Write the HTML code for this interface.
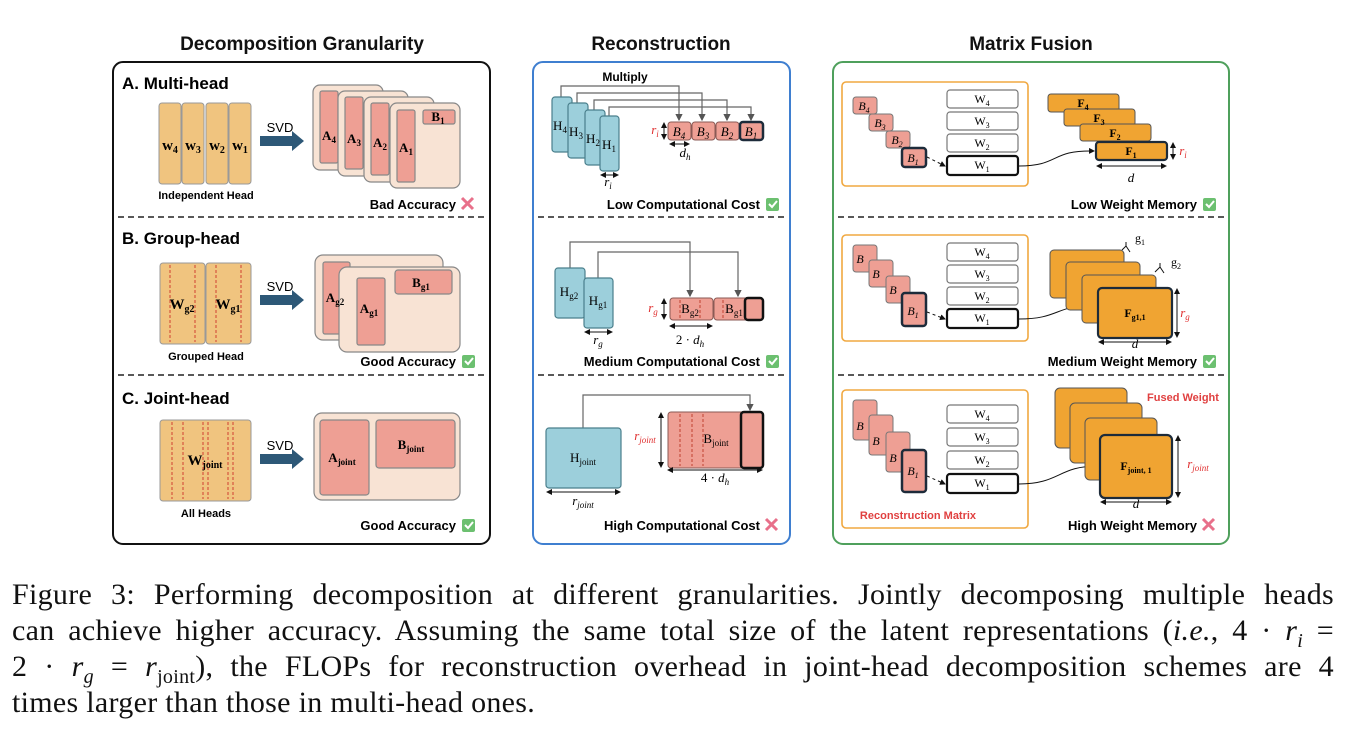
<!DOCTYPE html>
<html><head><meta charset="utf-8"><style>
body{margin:0;background:#fff;width:1346px;height:754px;overflow:hidden;position:relative}
svg{position:absolute;left:0;top:0}
.cap{position:absolute;left:12px;top:577px;width:1322px;font-family:"Liberation Serif",serif;font-size:30px;letter-spacing:0.3px;line-height:36px;color:#111}
.cap div{text-align:justify;text-align-last:justify;height:36px;white-space:nowrap}
.cap div.l{text-align-last:left}
.cap sub{font-size:20px;line-height:0}
</style></head><body>
<svg width="1346" height="580" viewBox="0 0 1346 580" font-family="Liberation Sans, sans-serif">
<defs>
<marker id="ah" markerWidth="6" markerHeight="6" refX="5" refY="3" orient="auto"><path d="M0,0L6,3L0,6z" fill="#555"/></marker>
<marker id="ak" markerWidth="6" markerHeight="6" refX="5" refY="3" orient="auto"><path d="M0,0L6,3L0,6z" fill="#111"/></marker>
<marker id="da" markerWidth="6" markerHeight="6" refX="5" refY="3" orient="auto-start-reverse"><path d="M0,0L6,3L0,6z" fill="#111"/></marker>
<g id="ok"><rect x="0" y="-11" width="13" height="13" rx="2" fill="#6cc070"/><path d="M3,-5L6,-2L11,-8" stroke="#fff" stroke-width="2" fill="none"/></g>
<g id="no"><path d="M0,-10L11,1M11,-10L0,1" stroke="#e8708a" stroke-width="3"/></g>
<g id="svd"><path d="M0,-5H32V-10L44,0L32,10V5H0z" fill="#2d5877"/></g>
</defs>
<g font-weight="bold" font-size="19" text-anchor="middle" fill="#111">
<text x="302" y="50">Decomposition Granularity</text>
<text x="661" y="50">Reconstruction</text>
<text x="1031" y="50">Matrix Fusion</text>
</g>
<rect x="113" y="62" width="377" height="482" rx="10" fill="none" stroke="#111" stroke-width="2"/>
<rect x="533" y="62" width="257" height="482" rx="10" fill="none" stroke="#3f7fd0" stroke-width="2"/>
<rect x="833" y="62" width="396" height="482" rx="10" fill="none" stroke="#4fa05c" stroke-width="2"/>
<g stroke="#222" stroke-width="1.6" stroke-dasharray="6,4">
<path d="M118,217H486M118,375H486M538,217H786M538,375H786M838,217H1225M838,375H1225"/>
</g>

<!-- Panel 1 A -->
<text x="122" y="89" font-weight="bold" font-size="17">A. Multi-head</text>
<g fill="#f0c47f" stroke="#999">
<rect x="159" y="103" width="22" height="81" rx="3"/><rect x="182" y="103" width="22" height="81" rx="3"/><rect x="206" y="103" width="22" height="81" rx="3"/><rect x="229" y="103" width="22" height="81" rx="3"/>
</g>
<g font-family="Liberation Serif,serif" font-weight="bold" font-size="15" text-anchor="middle">
<text x="170" y="150">w<tspan font-size="10" dy="3">4</tspan></text><text x="193" y="150">w<tspan font-size="10" dy="3">3</tspan></text><text x="217" y="150">w<tspan font-size="10" dy="3">2</tspan></text><text x="240" y="150">w<tspan font-size="10" dy="3">1</tspan></text>
</g>
<text x="206" y="199" font-size="11" font-weight="bold" text-anchor="middle">Independent Head</text>
<text x="280" y="132" font-size="13" text-anchor="middle">SVD</text>
<use href="#svd" x="260" y="141"/>
<g stroke="#888" stroke-width="1.2">
<rect x="313" y="85" width="70" height="85" rx="7" fill="#f8e3d4"/><rect x="320" y="91" width="18" height="72" rx="2" fill="#ee9f94"/>
<rect x="338" y="91" width="70" height="85" rx="7" fill="#f8e3d4"/><rect x="345" y="97" width="18" height="72" rx="2" fill="#ee9f94"/>
<rect x="364" y="97" width="70" height="85" rx="7" fill="#f8e3d4"/><rect x="371" y="103" width="18" height="72" rx="2" fill="#ee9f94"/>
<rect x="390" y="103" width="70" height="85" rx="7" fill="#f8e3d4"/><rect x="397" y="110" width="18" height="72" rx="2" fill="#ee9f94"/>
<rect x="423" y="110" width="32" height="14" rx="2" fill="#ee9f94"/>
</g>
<g font-family="Liberation Serif,serif" font-weight="bold" font-size="13" text-anchor="middle">
<text x="329" y="140">A<tspan font-size="9" dy="3">4</tspan></text><text x="354" y="143">A<tspan font-size="9" dy="3">3</tspan></text><text x="380" y="147">A<tspan font-size="9" dy="3">2</tspan></text><text x="406" y="152">A<tspan font-size="9" dy="3">1</tspan></text><text x="438" y="121">B<tspan font-size="9" dy="3">1</tspan></text>
</g>
<text x="456" y="209" font-size="13" font-weight="bold" text-anchor="end">Bad Accuracy</text><use href="#no" x="462" y="208"/>

<!-- Panel 1 B -->
<text x="122" y="244" font-weight="bold" font-size="17">B. Group-head</text>
<g fill="#f0c47f" stroke="#999"><rect x="160" y="263" width="45" height="81" rx="3"/><rect x="206" y="263" width="45" height="81" rx="3"/></g>
<g stroke="#d04030" stroke-dasharray="3,2" fill="none"><path d="M170,265V342M195,265V342M216,265V342M241,265V342"/></g>
<g font-family="Liberation Serif,serif" font-weight="bold" font-size="15" text-anchor="middle"><text x="182" y="309">W<tspan font-size="10" dy="3">g2</tspan></text><text x="228" y="309">W<tspan font-size="10" dy="3">g1</tspan></text></g>
<text x="206" y="360" font-size="11" font-weight="bold" text-anchor="middle">Grouped Head</text>
<text x="280" y="291" font-size="13" text-anchor="middle">SVD</text>
<use href="#svd" x="260" y="300"/>
<g stroke="#888" stroke-width="1.2">
<rect x="315" y="255" width="128" height="85" rx="8" fill="#f8e3d4"/><rect x="323" y="262" width="27" height="72" rx="2" fill="#ee9f94"/>
<rect x="339" y="267" width="121" height="85" rx="8" fill="#f8e3d4"/><rect x="357" y="278" width="28" height="67" rx="2" fill="#ee9f94"/>
<rect x="395" y="270" width="57" height="24" rx="3" fill="#ee9f94"/>
</g>
<g font-family="Liberation Serif,serif" font-weight="bold" font-size="13" text-anchor="middle"><text x="335" y="302">A<tspan font-size="9" dy="3">g2</tspan></text><text x="369" y="313">A<tspan font-size="9" dy="3">g1</tspan></text><text x="421" y="287">B<tspan font-size="9" dy="3">g1</tspan></text></g>
<text x="456" y="366" font-size="13" font-weight="bold" text-anchor="end">Good Accuracy</text><use href="#ok" x="462" y="366"/>

<!-- Panel 1 C -->
<text x="122" y="404" font-weight="bold" font-size="17">C. Joint-head</text>
<rect x="160" y="420" width="91" height="81" rx="3" fill="#f0c47f" stroke="#999"/>
<g stroke="#d04030" stroke-dasharray="3,2" fill="none"><path d="M172,422V499M183,422V499M203,422V499M208,422V499M228,422V499M233,422V499"/></g>
<text x="205" y="465" font-family="Liberation Serif,serif" font-weight="bold" font-size="15" text-anchor="middle">W<tspan font-size="10" dy="3">joint</tspan></text>
<text x="206" y="517" font-size="11" font-weight="bold" text-anchor="middle">All Heads</text>
<text x="280" y="450" font-size="13" text-anchor="middle">SVD</text>
<use href="#svd" x="260" y="459"/>
<g stroke="#888" stroke-width="1.2"><rect x="314" y="413" width="146" height="87" rx="8" fill="#f8e3d4"/><rect x="320" y="420" width="49" height="75" rx="3" fill="#ee9f94"/><rect x="376" y="420" width="79" height="48" rx="3" fill="#ee9f94"/></g>
<g font-family="Liberation Serif,serif" font-weight="bold" font-size="13" text-anchor="middle"><text x="342" y="462">A<tspan font-size="9" dy="3">joint</tspan></text><text x="411" y="449">B<tspan font-size="9" dy="3">joint</tspan></text></g>
<text x="456" y="530" font-size="13" font-weight="bold" text-anchor="end">Good Accuracy</text><use href="#ok" x="462" y="530"/>

<!-- Panel 2 s1 -->
<text x="625" y="81" font-size="12" font-weight="bold" text-anchor="middle">Multiply</text>
<g stroke="#666" stroke-width="1.2" fill="none" marker-end="url(#ah)">
<path d="M561,97V86H679V120"/><path d="M577,103V93H702V120"/><path d="M594,110V100H727V120"/><path d="M609,116V107H751V120"/>
</g>
<g fill="#9ccfdb" stroke="#4a7f8c" stroke-width="1.2">
<rect x="552" y="97" width="20" height="55" rx="3"/><rect x="568" y="103" width="20" height="55" rx="3"/><rect x="585" y="110" width="20" height="55" rx="3"/><rect x="600" y="116" width="19" height="55" rx="3"/>
</g>
<g font-family="Liberation Serif,serif" font-size="13" text-anchor="middle">
<text x="560" y="130">H<tspan font-size="9" dy="3">4</tspan></text><text x="576" y="136">H<tspan font-size="9" dy="3">3</tspan></text><text x="593" y="143">H<tspan font-size="9" dy="3">2</tspan></text><text x="609" y="149">H<tspan font-size="9" dy="3">1</tspan></text>
</g>
<g fill="#ee9f94" stroke="#8a5a55"><rect x="668" y="122" width="23" height="18" rx="3"/><rect x="692" y="122" width="23" height="18" rx="3"/><rect x="716" y="122" width="23" height="18" rx="3"/><rect x="740" y="122" width="23" height="18" rx="3" stroke="#1d2b3a" stroke-width="2.5"/></g>
<g font-family="Liberation Serif,serif" font-style="italic" font-size="13" text-anchor="middle">
<text x="679" y="136">B<tspan font-size="9" dy="3">4</tspan></text><text x="703" y="136">B<tspan font-size="9" dy="3">3</tspan></text><text x="727" y="136">B<tspan font-size="9" dy="3">2</tspan></text><text x="751" y="136">B<tspan font-size="9" dy="3">1</tspan></text>
<text x="655" y="134" fill="#e03030">r<tspan font-size="9" dy="3">i</tspan></text>
<text x="685" y="157">d<tspan font-size="9" dy="3">h</tspan></text>
<text x="608" y="186">r<tspan font-size="9" dy="3">i</tspan></text>
</g>
<g stroke="#111" fill="none" marker-start="url(#da)" marker-end="url(#da)"><path d="M664,123V139"/><path d="M670,144H689"/><path d="M601,175H618"/></g>
<text x="760" y="209" font-size="13" font-weight="bold" text-anchor="end">Low Computational Cost</text><use href="#ok" x="766" y="209"/>

<!-- Panel 2 s2 -->
<g stroke="#666" stroke-width="1.2" fill="none" marker-end="url(#ah)"><path d="M570,268V242H690V296"/><path d="M598,278V252H738V296"/></g>
<g fill="#9ccfdb" stroke="#4a7f8c" stroke-width="1.2"><rect x="555" y="268" width="30" height="50" rx="3"/><rect x="584" y="278" width="29" height="50" rx="3"/></g>
<g font-family="Liberation Serif,serif" font-size="13" text-anchor="middle"><text x="569" y="296">H<tspan font-size="9" dy="3">g2</tspan></text><text x="598" y="305">H<tspan font-size="9" dy="3">g1</tspan></text></g>
<g stroke="#8a5a55"><rect x="670" y="298" width="43" height="22" rx="3" fill="#ee9f94"/><rect x="714" y="298" width="49" height="22" rx="3" fill="#ee9f94"/><rect x="745" y="298" width="18" height="22" rx="3" fill="none" stroke="#111" stroke-width="2.5"/></g>
<g stroke="#c04030" stroke-dasharray="3,2"><path d="M680,300V318M700,300V318M723,300V318"/></g>
<g font-family="Liberation Serif,serif" font-size="13" text-anchor="middle"><text x="690" y="313">B<tspan font-size="9" dy="3">g2</tspan></text><text x="734" y="313">B<tspan font-size="9" dy="3">g1</tspan></text>
<text x="653" y="312" fill="#e03030" font-style="italic">r<tspan font-size="9" dy="3">g</tspan></text><text x="690" y="344">2 · <tspan font-style="italic">d</tspan><tspan font-size="9" dy="3" font-style="italic">h</tspan></text><text x="598" y="344" font-style="italic">r<tspan font-size="9" dy="3">g</tspan></text></g>
<g stroke="#111" fill="none" marker-start="url(#da)" marker-end="url(#da)"><path d="M664,299V319"/><path d="M670,326H712"/><path d="M585,332H612"/></g>
<text x="760" y="366" font-size="13" font-weight="bold" text-anchor="end">Medium Computational Cost</text><use href="#ok" x="766" y="366"/>

<!-- Panel 2 s3 -->
<g stroke="#666" stroke-width="1.2" fill="none" marker-end="url(#ah)"><path d="M583,428V395H750V410"/></g>
<rect x="546" y="428" width="75" height="60" rx="3" fill="#9ccfdb" stroke="#4a7f8c" stroke-width="1.2"/>
<g stroke="#8a5a55"><rect x="668" y="412" width="95" height="56" rx="3" fill="#ee9f94"/><rect x="741" y="412" width="22" height="56" rx="3" fill="none" stroke="#111" stroke-width="2.5"/></g>
<g stroke="#c04030" stroke-dasharray="3,2"><path d="M680,414V466M692,414V466M703,414V466"/></g>
<g font-family="Liberation Serif,serif" font-size="13" text-anchor="middle"><text x="583" y="462">H<tspan font-size="9" dy="3">joint</tspan></text><text x="716" y="443">B<tspan font-size="9" dy="3">joint</tspan></text>
<text x="645" y="440" fill="#e03030" font-style="italic">r<tspan font-size="9" dy="3">joint</tspan></text><text x="715" y="482">4 · <tspan font-style="italic">d</tspan><tspan font-size="9" dy="3" font-style="italic">h</tspan></text><text x="583" y="505" font-style="italic">r<tspan font-size="9" dy="3">joint</tspan></text></g>
<g stroke="#111" fill="none" marker-start="url(#da)" marker-end="url(#da)"><path d="M661,413V467"/><path d="M668,470H762"/><path d="M547,492H620"/></g>
<text x="760" y="530" font-size="13" font-weight="bold" text-anchor="end">High Computational Cost</text><use href="#no" x="766" y="529"/>

<!-- Panel 3 s1 -->
<rect x="842" y="82" width="186" height="104" rx="4" fill="none" stroke="#f0a840" stroke-width="1.6"/>
<g fill="#ee9f94" stroke="#777"><rect x="853" y="97" width="24" height="17" rx="3"/><rect x="869" y="114" width="24" height="17" rx="3"/><rect x="886" y="131" width="24" height="17" rx="3"/><rect x="902" y="148" width="24" height="19" rx="3" stroke="#1d2b3a" stroke-width="2.5"/></g>
<g font-family="Liberation Serif,serif" font-style="italic" font-size="12" text-anchor="middle"><text x="864" y="110">B<tspan font-size="8" dy="3">4</tspan></text><text x="880" y="127">B<tspan font-size="8" dy="3">3</tspan></text><text x="897" y="144">B<tspan font-size="8" dy="3">2</tspan></text><text x="913" y="162">B<tspan font-size="8" dy="3">1</tspan></text></g>
<g fill="#fff" stroke="#777" stroke-width="1.2"><rect x="947" y="90" width="71" height="18" rx="3"/><rect x="947" y="112" width="71" height="18" rx="3"/><rect x="947" y="134" width="71" height="18" rx="3"/><rect x="947" y="156" width="71" height="19" rx="3" stroke="#111" stroke-width="2.2"/></g>
<g font-family="Liberation Serif,serif" font-size="12" text-anchor="middle"><text x="982" y="103">W<tspan font-size="8" dy="3">4</tspan></text><text x="982" y="125">W<tspan font-size="8" dy="3">3</tspan></text><text x="982" y="147">W<tspan font-size="8" dy="3">2</tspan></text><text x="982" y="169">W<tspan font-size="8" dy="3">1</tspan></text></g>
<path d="M927,157L945,166" stroke="#111" stroke-dasharray="3,3" fill="none" marker-end="url(#ak)"/>
<path d="M1019,166C1060,166 1050,150 1094,151" stroke="#111" fill="none" marker-end="url(#ak)"/>
<g fill="#f0a432" stroke="#555"><rect x="1048" y="94" width="71" height="18" rx="3"/><rect x="1064" y="109" width="71" height="17" rx="3"/><rect x="1080" y="124" width="71" height="17" rx="3"/><rect x="1096" y="142" width="71" height="18" rx="3" stroke="#1d2b3a" stroke-width="2.2"/></g>
<g font-family="Liberation Serif,serif" font-weight="bold" font-size="12" text-anchor="middle"><text x="1083" y="107">F<tspan font-size="8" dy="3">4</tspan></text><text x="1099" y="122">F<tspan font-size="8" dy="3">3</tspan></text><text x="1115" y="137">F<tspan font-size="8" dy="3">2</tspan></text><text x="1131" y="155">F<tspan font-size="8" dy="3">1</tspan></text></g>
<g font-family="Liberation Serif,serif" font-style="italic" font-size="13" text-anchor="middle"><text x="1131" y="182">d</text><text x="1183" y="155" fill="#e03030">r<tspan font-size="9" dy="3">i</tspan></text></g>
<g stroke="#111" fill="none" marker-start="url(#da)" marker-end="url(#da)"><path d="M1097,166H1166"/><path d="M1173,143V159"/></g>
<text x="1197" y="209" font-size="13" font-weight="bold" text-anchor="end">Low Weight Memory</text><use href="#ok" x="1203" y="209"/>

<!-- Panel 3 s2 -->
<rect x="842" y="235" width="186" height="106" rx="4" fill="none" stroke="#f0a840" stroke-width="1.6"/>
<g fill="#ee9f94" stroke="#777"><rect x="853" y="245" width="24" height="27" rx="3"/><rect x="869" y="260" width="24" height="27" rx="3"/><rect x="886" y="276" width="24" height="27" rx="3"/><rect x="902" y="293" width="24" height="33" rx="3" stroke="#1d2b3a" stroke-width="2.5"/></g>
<g font-family="Liberation Serif,serif" font-style="italic" font-size="12" text-anchor="middle"><text x="860" y="263">B</text><text x="876" y="278">B</text><text x="893" y="294">B</text><text x="913" y="315">B<tspan font-size="8" dy="3">1</tspan></text></g>
<g fill="#fff" stroke="#777" stroke-width="1.2"><rect x="947" y="243" width="71" height="18" rx="3"/><rect x="947" y="265" width="71" height="18" rx="3"/><rect x="947" y="287" width="71" height="18" rx="3"/><rect x="947" y="309" width="71" height="19" rx="3" stroke="#111" stroke-width="2.2"/></g>
<g font-family="Liberation Serif,serif" font-size="12" text-anchor="middle"><text x="982" y="256">W<tspan font-size="8" dy="3">4</tspan></text><text x="982" y="278">W<tspan font-size="8" dy="3">3</tspan></text><text x="982" y="300">W<tspan font-size="8" dy="3">2</tspan></text><text x="982" y="322">W<tspan font-size="8" dy="3">1</tspan></text></g>
<path d="M927,312L945,319" stroke="#111" stroke-dasharray="3,3" fill="none" marker-end="url(#ak)"/>
<path d="M1019,319C1060,319 1055,305 1096,305" stroke="#111" fill="none" marker-end="url(#ak)"/>
<g fill="#f0a432" stroke="#555"><rect x="1050" y="250" width="74" height="48" rx="4"/><rect x="1066" y="262" width="74" height="48" rx="4"/><rect x="1082" y="275" width="74" height="48" rx="4"/><rect x="1098" y="288" width="74" height="50" rx="4" stroke="#1d2b3a" stroke-width="2.2"/></g>
<text x="1135" y="317" font-family="Liberation Serif,serif" font-weight="bold" font-size="12" text-anchor="middle">F<tspan font-size="8" dy="3">g1,1</tspan></text>
<path d="M1122,250L1126,246L1130,252M1126,246V242M1155,272L1160,267L1164,273M1160,267V263" stroke="#111" fill="none"/>
<g font-family="Liberation Serif,serif" font-size="12" text-anchor="middle"><text x="1140" y="242">g<tspan font-size="8" dy="3">1</tspan></text><text x="1176" y="266">g<tspan font-size="8" dy="3">2</tspan></text>
<text x="1135" y="348" font-style="italic" font-size="13">d</text><text x="1185" y="317" fill="#e03030" font-style="italic" font-size="13">r<tspan font-size="9" dy="3">g</tspan></text></g>
<g stroke="#111" fill="none" marker-start="url(#da)" marker-end="url(#da)"><path d="M1099,342H1171"/><path d="M1177,289V337"/></g>
<text x="1197" y="366" font-size="13" font-weight="bold" text-anchor="end">Medium Weight Memory</text><use href="#ok" x="1203" y="366"/>

<!-- Panel 3 s3 -->
<rect x="842" y="390" width="186" height="138" rx="4" fill="none" stroke="#f0a840" stroke-width="1.6"/>
<g fill="#ee9f94" stroke="#777"><rect x="853" y="400" width="24" height="40" rx="3"/><rect x="869" y="415" width="24" height="40" rx="3"/><rect x="886" y="432" width="24" height="40" rx="3"/><rect x="902" y="450" width="24" height="42" rx="3" stroke="#1d2b3a" stroke-width="2.5"/></g>
<g font-family="Liberation Serif,serif" font-style="italic" font-size="12" text-anchor="middle"><text x="860" y="430">B</text><text x="876" y="445">B</text><text x="893" y="462">B</text><text x="913" y="475">B<tspan font-size="8" dy="3">1</tspan></text></g>
<g fill="#fff" stroke="#777" stroke-width="1.2"><rect x="947" y="405" width="71" height="18" rx="3"/><rect x="947" y="428" width="71" height="18" rx="3"/><rect x="947" y="451" width="71" height="18" rx="3"/><rect x="947" y="474" width="71" height="19" rx="3" stroke="#111" stroke-width="2.2"/></g>
<g font-family="Liberation Serif,serif" font-size="12" text-anchor="middle"><text x="982" y="418">W<tspan font-size="8" dy="3">4</tspan></text><text x="982" y="441">W<tspan font-size="8" dy="3">3</tspan></text><text x="982" y="464">W<tspan font-size="8" dy="3">2</tspan></text><text x="982" y="487">W<tspan font-size="8" dy="3">1</tspan></text></g>
<path d="M927,476L945,484" stroke="#111" stroke-dasharray="3,3" fill="none" marker-end="url(#ak)"/>
<path d="M1019,484C1060,484 1058,466 1098,466" stroke="#111" fill="none" marker-end="url(#ak)"/>
<text x="918" y="519" font-size="11" font-weight="bold" fill="#e04040" text-anchor="middle">Reconstruction Matrix</text>
<g fill="#f0a432" stroke="#555"><rect x="1055" y="388" width="72" height="60" rx="5"/><rect x="1070" y="403" width="72" height="60" rx="5"/><rect x="1085" y="418" width="72" height="62" rx="5"/><rect x="1100" y="435" width="72" height="63" rx="5" stroke="#1d2b3a" stroke-width="2.2"/></g>
<text x="1136" y="470" font-family="Liberation Serif,serif" font-weight="bold" font-size="12" text-anchor="middle">F<tspan font-size="8" dy="3">joint, 1</tspan></text>
<text x="1183" y="401" font-size="11" font-weight="bold" fill="#e04040" text-anchor="middle">Fused Weight</text>
<g font-family="Liberation Serif,serif" font-style="italic" font-size="13" text-anchor="middle"><text x="1136" y="508">d</text><text x="1198" y="468" fill="#e03030">r<tspan font-size="9" dy="3">joint</tspan></text></g>
<g stroke="#111" fill="none" marker-start="url(#da)" marker-end="url(#da)"><path d="M1101,502H1171"/><path d="M1178,436V497"/></g>
<text x="1197" y="530" font-size="13" font-weight="bold" text-anchor="end">High Weight Memory</text><use href="#no" x="1203" y="529"/>
</svg>
<div class="cap">
<div>Figure 3: Performing decomposition at different granularities. Jointly decomposing multiple heads</div>
<div>can achieve higher accuracy. Assuming the same total size of the latent representations (<i>i.e.</i>, 4 · <i>r<sub>i</sub></i> =</div>
<div>2 · <i>r<sub>g</sub></i> = <i>r</i><sub>joint</sub>), the FLOPs for reconstruction overhead in joint-head decomposition schemes are 4</div>
<div class="l">times larger than those in multi-head ones.</div>
</div>
</body></html>
